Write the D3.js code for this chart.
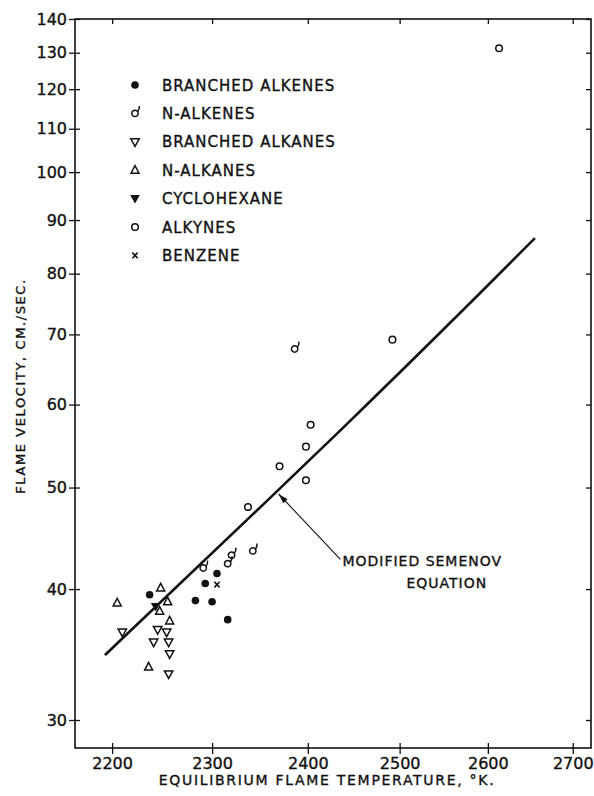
<!DOCTYPE html>
<html>
<head>
<meta charset="utf-8">
<script src="https://cdn.jsdelivr.net/npm/d3@7"></script>
<style>
body { margin: 0; background: #fff; }
text { font-family: "DejaVu Sans", sans-serif; fill: #111; stroke: #111; stroke-width: 0.35px; }
</style>
</head>
<body>
<svg id="chart" width="594" height="796"></svg>
<script>
// values: [equilibrium flame temperature K, flame velocity cm/sec]
var branchedAlkenes = [[2237, 39.5], [2305, 41.4], [2293, 40.5], [2283, 39.0], [2300, 38.9], [2316, 37.4]];
var nAlkenes = [[2386, 67.8], [2342, 43.5], [2320, 43.1], [2316, 42.3], [2291, 41.9]];
var branchedAlkanes = [[2210, 36.4], [2245, 36.6], [2241, 35.6], [2254, 36.4], [2256, 35.6], [2257, 34.7], [2256, 33.2]];
var nAlkanes = [[2205, 38.8], [2248, 40.1], [2255, 38.9], [2247, 38.1], [2257, 37.3], [2236, 33.7]];
var cyclohexane = [[2243, 38.5]];
var alkynes = [[2613, 131.3], [2492, 69.2], [2403, 57.4], [2398, 54.7], [2370, 52.4], [2398, 50.8], [2337, 47.9]];
var benzene = [[2305, 40.4]];
// modified Semenov equation curve
var semenov = [[2193, 34.6], [2350, 47.9], [2435, 56.7], [2583, 75.5], [2655, 86.5]];
// arrow from the label to the curve
var arrowFrom = [2435, 42.7];
var arrowTo = [2369, 49.3];

var xTicks = [2200, 2300, 2400, 2500, 2600, 2700];
var yTicks = [30, 40, 50, 60, 70, 80, 90, 100, 110, 120, 130, 140];
var xDomain = [2164, 2722];
var yDomain = [28.21, 140];

var legendNames = ["BRANCHED ALKENES", "N-ALKENES", "BRANCHED ALKANES", "N-ALKANES", "CYCLOHEXANE", "ALKYNES", "BENZENE"];
var legendKeys = ["bAlkene", "nAlkene", "bAlkane", "nAlkane", "cyclo", "alkyne", "benzene"];

chart()

function chart() {
    var margin = { top: 19, right: 3, bottom: 48, left: 75 };
    var width = 594 - margin.left - margin.right;
    var height = 796 - margin.top - margin.bottom;

    var svg = d3.select("#chart")
        .append("g")
        .attr("transform", "translate(" + margin.left + "," + margin.top + ")");

    var x = d3.scaleLog().domain(xDomain).range([0, width]);
    var y = d3.scaleLog().domain(yDomain).range([height, 0]);

    //frame
    svg.append("rect")
        .attr("width", width)
        .attr("height", height)
        .attr("fill", "none")
        .attr("stroke", "#111")
        .attr("stroke-width", 1.6);

    //left axis with labels, ticks cross the line
    var yAxis = d3.axisLeft(y).tickValues(yTicks).tickFormat(d3.format("d")).tickSize(6).tickPadding(2);
    svg.append("g").call(yAxis);
    svg.append("g").call(d3.axisRight(y).tickValues(yTicks).tickFormat("").tickSize(5));
    // right side inner ticks
    svg.append("g").attr("transform", "translate(" + width + ",0)")
        .call(d3.axisLeft(y).tickValues(yTicks).tickFormat("").tickSize(5));

    //bottom axis
    var xAxis = d3.axisBottom(x).tickValues(xTicks).tickFormat(d3.format("d")).tickSize(6).tickPadding(4);
    svg.append("g").attr("transform", "translate(0," + height + ")").call(xAxis);
    svg.append("g").attr("transform", "translate(0," + height + ")")
        .call(d3.axisTop(x).tickValues(xTicks).tickFormat("").tickSize(5));
    // top inner ticks
    svg.append("g").call(d3.axisBottom(x).tickValues(xTicks).tickFormat("").tickSize(5));

    svg.selectAll(".domain").remove();
    svg.selectAll(".tick line").attr("stroke", "#111").attr("stroke-width", 1.3);
    svg.selectAll(".tick text").style("font-size", "16px").attr("fill", "#111");

    //axis titles
    svg.append("text")
        .attr("x", width / 2 - 6)
        .attr("y", height + 37)
        .attr("text-anchor", "middle")
        .style("font-size", "14px")
        .style("letter-spacing", "1.7px")
        .text("EQUILIBRIUM  FLAME  TEMPERATURE, °K.");

    svg.append("text")
        .attr("transform", "rotate(-90)")
        .attr("x", -(386 - margin.top))
        .attr("y", -50)
        .attr("text-anchor", "middle")
        .style("font-size", "13px")
        .style("letter-spacing", "1.6px")
        .text("FLAME  VELOCITY,  CM./SEC.");

    //semenov curve
    var line = d3.line()
        .x(function(d) { return x(d[0]); })
        .y(function(d) { return y(d[1]); })
        .curve(d3.curveMonotoneX);
    svg.append("path")
        .datum(semenov)
        .attr("d", line)
        .attr("fill", "none")
        .attr("stroke", "#111")
        .attr("stroke-width", 2.6);

    //markers
    function drawMarker(g, key) {
        if (key == "bAlkene") {
            g.append("circle").attr("r", 3.8).attr("fill", "#111");
        } else if (key == "alkyne") {
            g.append("circle").attr("r", 3.3).attr("fill", "#fff").attr("stroke", "#111").attr("stroke-width", 1.5);
        } else if (key == "nAlkene") {
            g.append("circle").attr("r", 3.2).attr("fill", "#fff").attr("stroke", "#111").attr("stroke-width", 1.5);
            g.append("path").attr("d", "M2.6,-1.6 Q4.6,-4 4.3,-7.4")
                .attr("fill", "none").attr("stroke", "#111").attr("stroke-width", 1.5);
        } else if (key == "bAlkane") {
            g.append("path").attr("d", "M0,4.6 L4.2,-3 L-4.2,-3 Z")
                .attr("fill", "#fff").attr("stroke", "#111").attr("stroke-width", 1.5);
        } else if (key == "nAlkane") {
            g.append("path").attr("d", "M0,-4.6 L4,3 L-4,3 Z")
                .attr("fill", "#fff").attr("stroke", "#111").attr("stroke-width", 1.5);
        } else if (key == "cyclo") {
            g.append("path").attr("d", "M0,5 L4.8,-3.6 L-4.8,-3.6 Z").attr("fill", "#111");
        } else if (key == "benzene") {
            g.append("path").attr("d", "M-2.6,-2.8 L2.6,2.8 M2.6,-2.8 L-2.6,2.8")
                .attr("stroke", "#111").attr("stroke-width", 1.6);
        }
    }

    var series = [
        { key: "bAlkane", data: branchedAlkanes },
        { key: "nAlkane", data: nAlkanes },
        { key: "cyclo", data: cyclohexane },
        { key: "nAlkene", data: nAlkenes },
        { key: "alkyne", data: alkynes },
        { key: "bAlkene", data: branchedAlkenes },
        { key: "benzene", data: benzene }
    ];
    series.forEach(function(s) {
        svg.selectAll(".pt-" + s.key)
            .data(s.data)
            .enter()
            .append("g")
            .attr("class", "pt-" + s.key)
            .attr("transform", function(d) { return "translate(" + x(d[0]) + "," + y(d[1]) + ")"; })
            .each(function() { drawMarker(d3.select(this), s.key); });
    });

    //legend
    var legend = svg.append("g").attr("transform", "translate(60,66)");
    legendKeys.forEach(function(k, i) {
        var row = legend.append("g").attr("transform", "translate(0," + (i * 28.4) + ")");
        drawMarker(row.append("g"), k);
        row.append("text")
            .attr("x", 27)
            .attr("y", 5.5)
            .style("font-size", "15px")
            .style("letter-spacing", "1px")
            .text(legendNames[i]);
    });

    //annotation
    var ax0 = x(arrowFrom[0]), ay0 = y(arrowFrom[1]);
    var ax1 = x(arrowTo[0]), ay1 = y(arrowTo[1]);
    svg.append("line")
        .attr("x1", ax0).attr("y1", ay0)
        .attr("x2", ax1).attr("y2", ay1)
        .attr("stroke", "#111").attr("stroke-width", 1.1);
    var ang = Math.atan2(ay1 - ay0, ax1 - ax0);
    var hl = 10, hw = 3;
    svg.append("path")
        .attr("d", "M" + ax1 + "," + ay1 +
            "L" + (ax1 - hl * Math.cos(ang) + hw * Math.sin(ang)) + "," + (ay1 - hl * Math.sin(ang) - hw * Math.cos(ang)) +
            "L" + (ax1 - hl * Math.cos(ang) - hw * Math.sin(ang)) + "," + (ay1 - hl * Math.sin(ang) + hw * Math.cos(ang)) + "Z")
        .attr("fill", "#111");
    svg.append("text")
        .attr("x", ax0 + 2)
        .attr("y", ay0 + 7)
        .style("font-size", "14px")
        .style("letter-spacing", "1px")
        .text("MODIFIED SEMENOV");
    svg.append("text")
        .attr("x", ax0 + 66)
        .attr("y", ay0 + 29)
        .style("font-size", "14px")
        .style("letter-spacing", "1px")
        .text("EQUATION");
}
</script>
</body>
</html>
